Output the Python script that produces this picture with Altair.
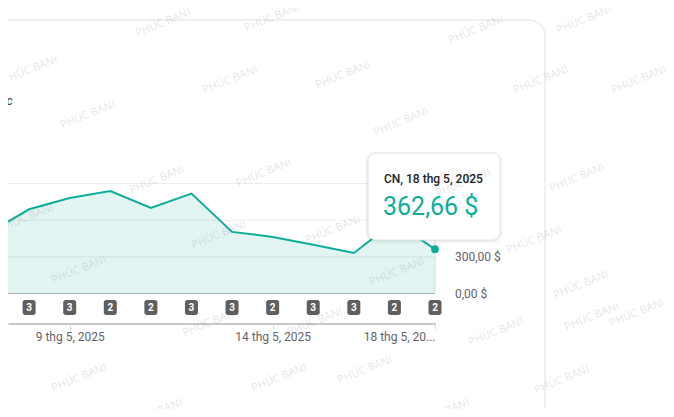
import altair as alt
import pandas as pd

# ---- data ----
days = [7, 8, 9, 10, 11, 12, 13, 14, 15, 16, 17, 18]
revenue = [495, 689, 781, 839, 700, 817, 504, 463, 399, 332, 587, 362.66]
badge_days = [8, 9, 10, 11, 12, 13, 14, 15, 16, 17, 18]
badge_counts = [3, 3, 2, 2, 3, 3, 2, 3, 3, 2, 2]
y_tick_values = [0, 300, 600, 900]
y_label_values = [0, 300]          # 600 and 900 sit under the tooltip card
x_tick_days = [9, 14, 18]
x_tick_labels = ["9 thg 5, 2025", "14 thg 5, 2025", "18 thg 5, 20..."]
tooltip_date = "CN, 18 thg 5, 2025"
tooltip_value = "362,66 $"
subtitle_tail = "trước"
watermark_text = "PHÚC BANI"
wm_x = [163, 272, 476, 584, 30, 230, 343, 541, 639, 88, 401, 157, 264, 463, 577,
        26, 219, 333, 534, 79, 397, 581, 210, 315, 496, 592, 637, 79, 279, 365,
        562, 155, 442]
wm_y = [23, 18, 30, 20, 70, 80, 75, 80, 80, 115, 122, 180, 173, 183, 178,
        218, 235, 230, 240, 270, 272, 285, 323, 322, 332, 317, 313, 378, 378, 370,
        380, 413, 413]

TEAL = "#0dae99"
FONT = "Roboto"
W, H = 427, 110
PAD_TOP = 175.5
ORIGIN_X, ORIGIN_Y = 8, 8 + PAD_TOP  # page position of the plot's top-left corner

df = pd.DataFrame({"day": days, "rev": revenue})
last = df.tail(1)
badges = pd.DataFrame({"day": badge_days, "n": badge_counts})
yticks = pd.DataFrame({"v": y_tick_values})
ylabs = pd.DataFrame({"v": y_label_values})
wm = pd.DataFrame({"px": [x - ORIGIN_X for x in wm_x], "py": [y - ORIGIN_Y for y in wm_y]})

label_map = " : ".join(
    f"datum.value == {d} ? '{t}'" for d, t in zip(x_tick_days, x_tick_labels)
) + " : ''"

xscale = alt.Scale(domain=[7.48, 18], nice=False, zero=False)
yscale = alt.Scale(domain=[0, 900], nice=False)

x_enc = alt.X(
    "day:Q", scale=xscale, title=None,
    axis=alt.Axis(
        values=x_tick_days, labelExpr=label_map, offset=30, grid=False,
        domainColor="#c8c8c8", domainWidth=2, tickColor="#d8d8d8", tickSize=5,
        labelPadding=3, labelFontSize=12, labelColor="#5f6368", labelFont=FONT,
        labelFlush=True, labelOverlap=False, zindex=0,
    ),
)

area = alt.Chart(df).mark_area(color=TEAL, opacity=0.12, clip=True).encode(
    x=x_enc, y=alt.Y("rev:Q", scale=yscale, axis=None)
)
grid = alt.Chart(yticks).transform_filter("datum.v > 0").mark_rule(
    color="#000", opacity=0.075, strokeWidth=1
).encode(y=alt.Y("v:Q", scale=yscale), x=alt.value(0), x2=alt.value(W))
baseline = alt.Chart(yticks).transform_filter("datum.v == 0").mark_rule(
    color="#a3b2b0", strokeWidth=1
).encode(y=alt.Y("v:Q", scale=yscale), x=alt.value(0), x2=alt.value(W))
ylabels = alt.Chart(ylabs).transform_calculate(
    lab="replace(format(datum.v, '.2f'), '.', ',') + ' $'"
).mark_text(align="left", baseline="middle", fontSize=12, font=FONT, color="#5f6368").encode(
    y=alt.Y("v:Q", scale=yscale), x=alt.value(W + 20), text="lab:N"
)
hover_rule = alt.Chart(last).mark_rule(color="#d3dcdb", strokeWidth=1).encode(
    x=alt.X("day:Q", scale=xscale), y=alt.value(0), y2=alt.value(H)
)
line = alt.Chart(df).mark_line(color=TEAL, strokeWidth=2, clip=True).encode(
    x=alt.X("day:Q", scale=xscale), y=alt.Y("rev:Q", scale=yscale)
)
dot = alt.Chart(last).mark_circle(color=TEAL, size=60, opacity=1).encode(
    x=alt.X("day:Q", scale=xscale), y=alt.Y("rev:Q", scale=yscale)
)
badge_rect = alt.Chart(badges).mark_rect(width=13, height=15, cornerRadius=2.5, color="#5f5f5f").encode(
    x=alt.X("day:Q", scale=xscale), y=alt.value(124)
)
badge_txt = alt.Chart(badges).mark_text(
    color="white", fontSize=10, fontWeight="bold", font=FONT, baseline="middle"
).encode(x=alt.X("day:Q", scale=xscale), y=alt.value(124.5), text="n:Q")

# tooltip card
tip_shadow1 = alt.Chart(last).mark_rect(cornerRadius=11, color="#000", opacity=0.035).encode(
    x=alt.value(357), x2=alt.value(495), y=alt.value(-32), y2=alt.value(60)
)
tip_shadow2 = alt.Chart(last).mark_rect(cornerRadius=9, color="#000", opacity=0.05).encode(
    x=alt.value(359), x2=alt.value(493), y=alt.value(-30), y2=alt.value(58)
)
tip_box = alt.Chart(last).mark_rect(cornerRadius=8, fill="white", stroke="#e6e6e6", strokeWidth=1).encode(
    x=alt.value(360), x2=alt.value(492), y=alt.value(-30.5), y2=alt.value(56.5)
)
tip_date = alt.Chart(last).mark_text(
    text=tooltip_date, align="left", baseline="middle", fontSize=12, fontWeight=500,
    font=FONT, color="#202124"
).encode(x=alt.value(376), y=alt.value(-5))
tip_val = alt.Chart(last).mark_text(
    text=tooltip_value, align="left", baseline="middle", fontSize=25, font=FONT, color=TEAL
).encode(x=alt.value(375), y=alt.value(23))

# card outline and header fragment
card = alt.Chart(last).mark_rect(
    cornerRadius=16, fillOpacity=0, stroke="#e0e0e0", strokeWidth=1
).encode(x=alt.value(-60), x2=alt.value(537), y=alt.value(-163.5), y2=alt.value(400))
header = alt.Chart(last).mark_text(
    text=subtitle_tail, align="right", baseline="middle", fontSize=12, fontStyle="italic",
    font=FONT, color="#3c4043"
).encode(x=alt.value(4.5), y=alt.value(-82.5))

watermarks = alt.Chart(wm).mark_text(
    text=watermark_text, angle=338, fontSize=11, font="Open Sans", color="#000", opacity=0.1,
    align="center", baseline="middle"
).encode(x=alt.X("px:Q", scale=None), y=alt.Y("py:Q", scale=None))

chart = alt.layer(
    area, grid, baseline, ylabels, hover_rule, line, dot, badge_rect, badge_txt,
    tip_shadow1, tip_shadow2, tip_box, tip_date, tip_val,
    card, header, watermarks,
).properties(
    width=W, height=H,
    padding={"left": 0, "top": PAD_TOP, "right": 658 - W, "bottom": 401 - PAD_TOP - H},
    autosize=alt.AutoSizeParams(type="none"),
).configure_view(stroke=None)

chart.save("out.html", embed_options={"renderer": "svg", "actions": False})
